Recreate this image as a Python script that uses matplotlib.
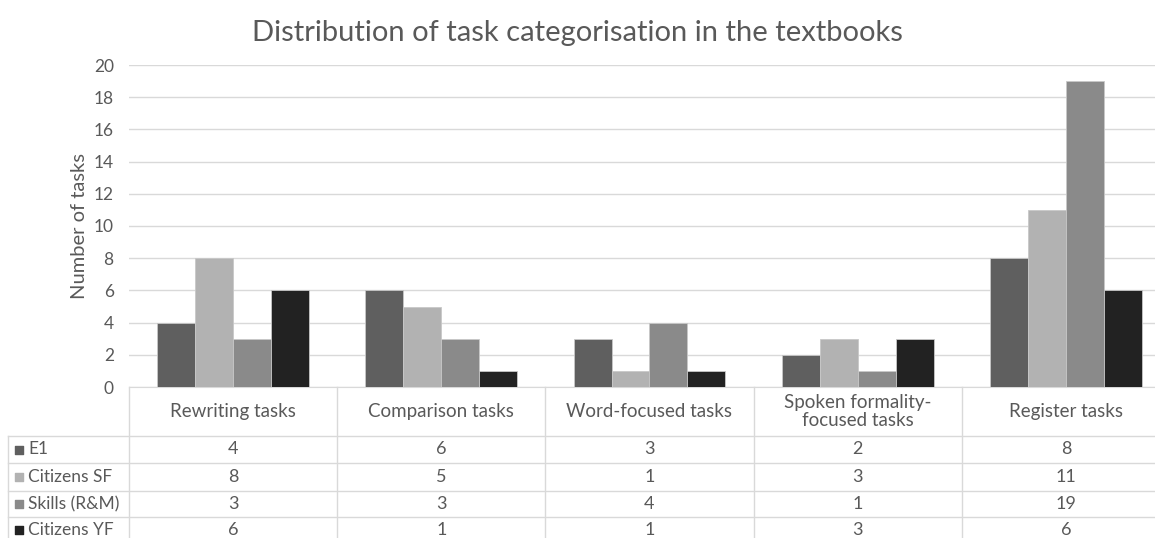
import matplotlib
matplotlib.use("Agg")
import matplotlib.pyplot as plt
import numpy as np

# data
categories = ["Rewriting tasks", "Comparison tasks", "Word-focused tasks",
              "Spoken formality-\nfocused tasks", "Register tasks"]
series_names = ["E1", "Citizens SF", "Skills (R&M)", "Citizens YF"]
e1 = [4, 6, 3, 2, 8]
citizens_sf = [8, 5, 1, 3, 11]
skills_rm = [3, 3, 4, 1, 19]
citizens_yf = [6, 1, 1, 3, 6]
series_values = [e1, citizens_sf, skills_rm, citizens_yf]
colors = ["#5f5f5f", "#b2b2b2", "#8a8a8a", "#222222"]
yticks = [0, 2, 4, 6, 8, 10, 12, 14, 16, 18, 20]

plt.rcParams['font.family'] = ['Lato', 'DejaVu Sans']
txt = "#595959"
grid = "#d9d9d9"

W, H = 1155, 538
fig = plt.figure(figsize=(W / 100, H / 100), dpi=100)

left_px, right_px = 129, 1170
top_px, base_px = 65, 387
ax = fig.add_axes([left_px / W, 1 - base_px / H, (right_px - left_px) / W, (base_px - top_px) / H])

x = np.arange(len(categories))
bw = 38 / 208.3
for i, vals in enumerate(series_values):
    ax.bar(x + (i - 1.5) * bw, vals, width=bw, color=colors[i],
           edgecolor="#c8c8c8", linewidth=0.6, zorder=3)

ax.set_xlim(-0.5, len(categories) - 0.5)
ax.set_ylim(0, 20)
ax.set_yticks(yticks)
ax.set_xticks([])
ax.yaxis.grid(True, color=grid, linewidth=1, zorder=0)
for s in ["top", "right", "left"]:
    ax.spines[s].set_visible(False)
ax.spines["bottom"].set_color(grid)
ax.tick_params(axis="y", length=0, labelsize=12.5, labelcolor=txt, pad=11)
ax.set_ylabel("Number of tasks", fontsize=14.5, color=txt, labelpad=4)

fig.text(0.5, 1 - 33 / H, "Distribution of task categorisation in the textbooks",
         ha="center", va="center", fontsize=21, color=txt)

# data table below the chart
tab = fig.add_axes([left_px / W, 0, (right_px - left_px) / W, (H - base_px) / H], sharex=ax)
tab.set_ylim(H, base_px)
tab.axis("off")
xl = -0.5 - (left_px - 8) / 208.3
row_lines = [436, 463, 491, 517]
for k in range(len(categories) + 1):
    tab.plot([k - 0.5, k - 0.5], [base_px, H], color=grid, lw=1, clip_on=False)
tab.plot([xl, xl], [row_lines[0], H], color=grid, lw=1, clip_on=False)
for yl in row_lines:
    tab.plot([xl, len(categories) - 0.5], [yl, yl], color=grid, lw=1, clip_on=False)

for j, c in enumerate(categories):
    tab.text(j, (base_px + row_lines[0]) / 2, c, ha="center", va="center",
             fontsize=13.5, color=txt, linespacing=1.1)

row_mid = [(row_lines[i] + (row_lines[i + 1] if i + 1 < len(row_lines) else 543)) / 2
           for i in range(len(row_lines))]
xs = xl + 11 / 208.3
xt = xl + 20 / 208.3
for i, name in enumerate(series_names):
    tab.scatter([xs], [row_mid[i]], marker="s", s=34, color=colors[i], clip_on=False)
    tab.text(xt, row_mid[i], name, ha="left", va="center", fontsize=12.5, color=txt)
    for j, v in enumerate(series_values[i]):
        tab.text(j, row_mid[i], str(v), ha="center", va="center", fontsize=13, color=txt)

fig.savefig("out.png", dpi=100)
